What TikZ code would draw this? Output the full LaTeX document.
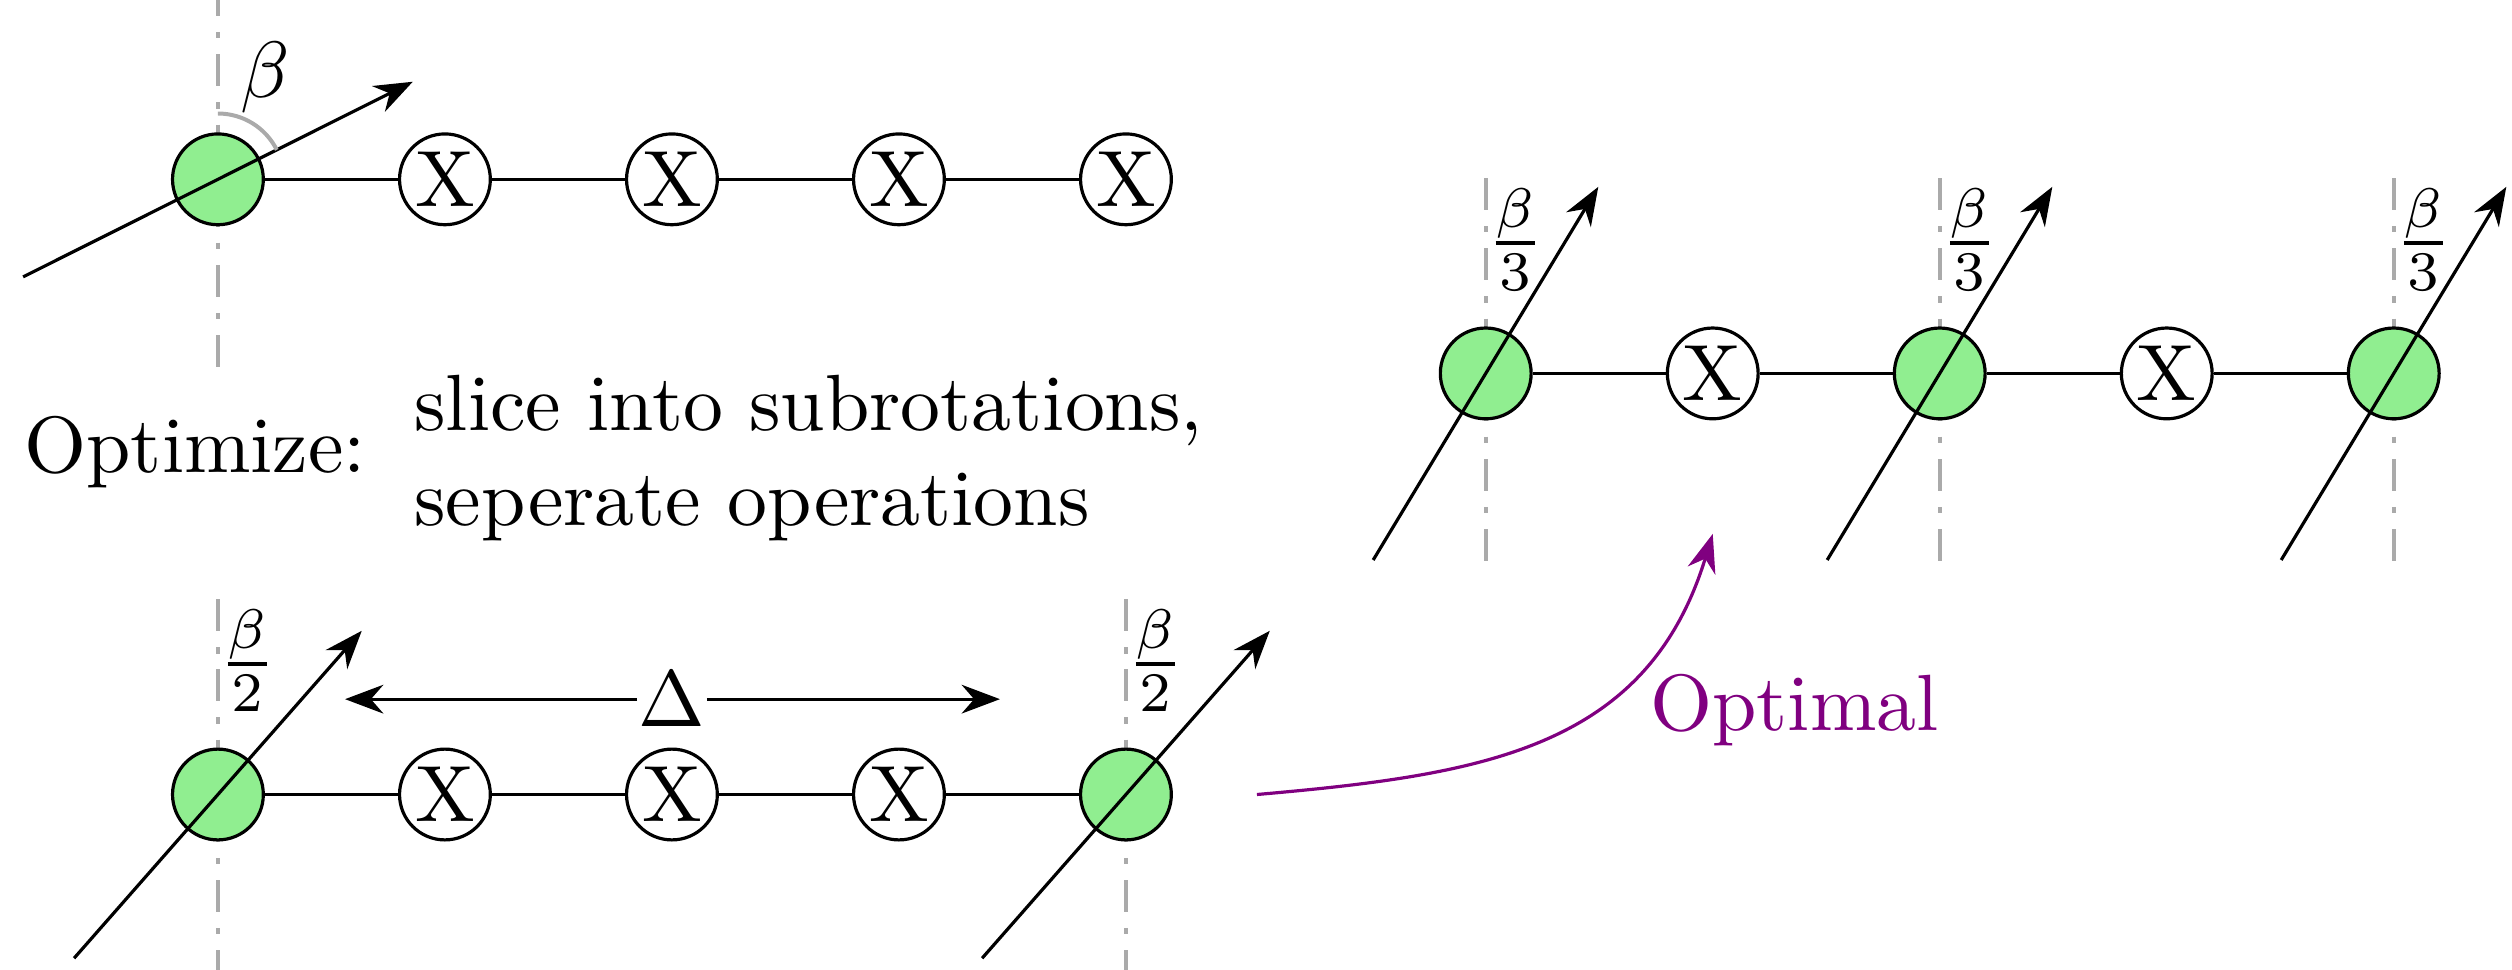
\documentclass[tikz,border=0pt]{standalone}
\usepackage{xcolor}
\usepackage{tikz}
\usetikzlibrary{arrows.meta,positioning,calc,backgrounds}
\definecolor{rotgreen}{RGB}{144,238,144}
\definecolor{axisgray}{RGB}{170,170,170}
\definecolor{optviolet}{RGB}{128,0,128}
\tikzstyle{rot} = [circle, draw=black, fill=rotgreen, minimum size=0.4cm, inner sep=0pt]
\tikzstyle{xgate} = [circle, draw=black, fill=white, minimum size=0.4cm, inner sep=0pt]
\tikzstyle{axis} = [color=axisgray, line width=0.5pt, dash pattern=on 4pt off 2pt on 0.8pt off 2pt]
\tikzstyle{arrow} = [->,>=Stealth]
\tikzstyle{optarrow} = [->,>=Stealth,color=optviolet]

\begin{document}
\begin{tikzpicture}[node distance=1cm, on grid]
\useasboundingbox (0,0) rectangle (11.066,-4.269);

% Single rotation, then the X gates
\node [rot] (a0) at (0.96,-0.79) {};
\node [xgate, right=of a0] (a1) {X};
\node [xgate, right=of a1] (a2) {X};
\node [xgate, right=of a2] (a3) {X};
\node [xgate, right=of a3] (a4) {X};
\draw (a0) -- (a1) -- (a2) -- (a3) -- (a4);
\draw [arrow] ([shift={(206.6:0.96)}]a0.center) -- ([shift={(26.6:0.96)}]a0.center);
\draw [axisgray, line width=0.5pt] ([yshift=0.29cm]a0.center) arc [start angle=90, end angle=26.6, radius=0.29cm];
\node (beta) at ([shift={(0.21,0.45)}]a0.center) {$\beta$};

% Text in between
\node (opt) at (0.86,-1.993) {Optimize:};
\node [align=left, anchor=west] (steps) at (1.702,-2.018) {slice into subrotations,\\seperate operations};

% Rotation split in two halves
\node [rot] (b0) at (0.96,-3.5) {};
\node [xgate, right=of b0] (b1) {X};
\node [xgate, right=of b1] (b2) {X};
\node [xgate, right=of b2] (b3) {X};
\node [rot, right=of b3] (b4) {};
\draw (b0) -- (b1) -- (b2) -- (b3) -- (b4);
\foreach \n in {b0,b4} {
  \draw [arrow] ([shift={(228.7:0.96)}]\n.center) -- ([shift={(48.7:0.96)}]\n.center);
  \node (\n lbl) at ([shift={(0.13,0.59)}]\n.center) {$\frac{\beta}{2}$};
}
\node [inner sep=0pt, above=0.42cm of b2] (delta) {$\Delta$};
\coordinate (dleft) at (1.52,-3.08);
\coordinate (dright) at (4.405,-3.08);
\draw [arrow] (delta) -- (dleft);
\draw [arrow] (delta) -- (dright);

% Rotation split in three, one X between each
\node [rot] (c0) at (6.545,-1.645) {};
\node [xgate, right=of c0] (c1) {X};
\node [rot, right=of c1] (c2) {};
\node [xgate, right=of c2] (c3) {X};
\node [rot, right=of c3] (c4) {};
\draw (c0) -- (c1) -- (c2) -- (c3) -- (c4);
\foreach \n in {c0,c2,c4} {
  \draw [arrow] ([shift={(238.9:0.96)}]\n.center) -- ([shift={(58.9:0.96)}]\n.center);
  \node (\n lbl) at ([shift={(0.13,0.59)}]\n.center) {$\frac{\beta}{3}$};
}

% Rotation axes
\begin{scope}[on background layer]
\foreach \n in {a0,b0,b4,c0,c2,c4}
  \draw [axis] ([yshift=0.86cm]\n.center) -- ([yshift=-0.86cm]\n.center);
\end{scope}

% Optimal arrow
\coordinate (ostart) at ([xshift=0.37cm]b4.east);
\coordinate (oend) at ([yshift=-0.5cm]c1.south);
\draw [optarrow] (ostart) to [out=5, in=-107, looseness=1.1] (oend);
\node [text=optviolet] (optlabel) at (7.905,-3.128) {Optimal};

\end{tikzpicture}
\end{document}
